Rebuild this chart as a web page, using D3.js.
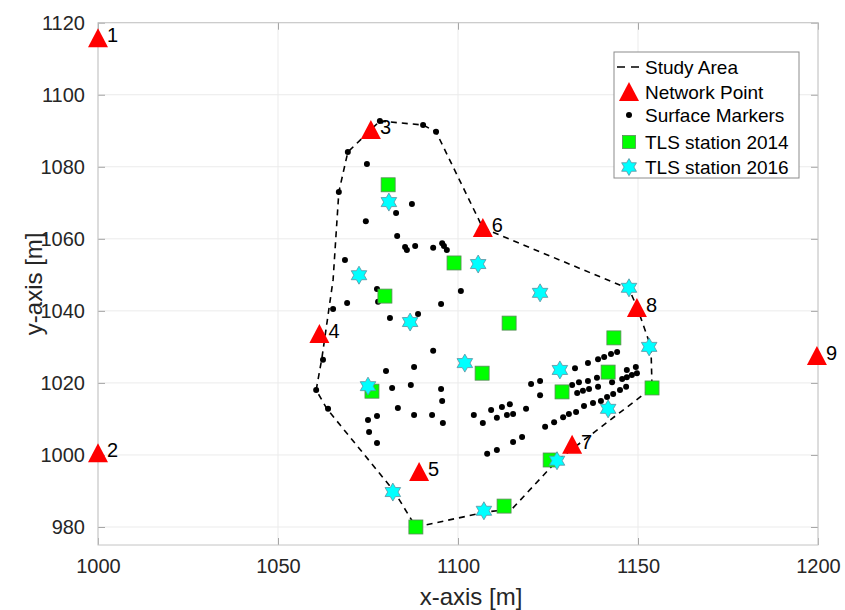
<!DOCTYPE html>
<html>
<head>
<meta charset="utf-8">
<script src="https://cdn.jsdelivr.net/npm/d3@7"></script>
<style>
  body { margin: 0; background: #fff; }
  text { font-family: "Liberation Sans", Arial, sans-serif; }
</style>
</head>
<body>
<div id="chart"></div>
<script>
// Dados (coordenadas em metros)

const xTicks = [1000, 1050, 1100, 1150, 1200];
const yTicks = [980, 1000, 1020, 1040, 1060, 1080, 1100, 1120];

// Pontos da rede: [id, x, y]
const networkPoints = [
  [1, 1000.0, 1115.7],
  [2, 1000.0, 1000.5],
  [3, 1075.8, 1090.2],
  [4, 1061.5, 1033.6],
  [5, 1089.2, 995.3],
  [6, 1106.9, 1063.0],
  [7, 1131.7, 1002.8],
  [8, 1149.7, 1040.8],
  [9, 1199.7, 1027.5]
];

// Contorno da área de estudo
const studyArea = [
  [1078.3, 1092.7], [1090.3, 1091.6], [1093.9, 1089.7], [1106.9, 1063.0],
  [1147.5, 1046.1], [1149.7, 1041.1], [1153.6, 1030.0], [1153.9, 1018.6],
  [1127.5, 998.4], [1115.0, 985.0], [1108.1, 984.2], [1088.3, 980.0],
  [1082.2, 990.0], [1063.6, 1012.8], [1060.6, 1018.0], [1062.2, 1026.9],
  [1065.3, 1048.6], [1066.9, 1073.0], [1069.4, 1084.1], [1078.3, 1092.7]
];

// Marcadores de superfície
const surfaceMarkers = [
  [1078.3, 1092.7], [1090.3, 1091.6], [1093.9, 1089.7], [1069.4, 1084.1],
  [1074.7, 1080.8], [1066.9, 1073.0], [1087.2, 1069.7], [1082.8, 1067.2],
  [1074.4, 1064.9], [1083.1, 1060.8], [1085.3, 1057.7], [1085.8, 1056.9],
  [1088.1, 1058.0], [1093.1, 1057.5], [1095.6, 1058.8], [1096.1, 1058.0],
  [1096.9, 1056.9], [1068.6, 1054.1], [1100.8, 1045.5], [1077.5, 1046.1],
  [1069.2, 1042.2], [1065.3, 1040.5], [1077.8, 1042.5], [1095.3, 1041.9],
  [1081.1, 1038.0], [1088.9, 1039.1], [1093.1, 1028.9], [1062.5, 1026.4],
  [1080.0, 1023.3], [1087.8, 1024.4], [1060.6, 1018.0], [1081.7, 1018.6],
  [1086.9, 1019.4], [1095.3, 1018.3], [1095.6, 1015.0], [1063.9, 1012.8],
  [1083.3, 1013.0], [1087.8, 1011.1], [1092.8, 1011.1], [1095.8, 1008.9],
  [1075.0, 1009.7], [1077.5, 1010.8], [1075.3, 1006.4], [1077.5, 1003.3],
  [1104.4, 1011.1], [1106.9, 1008.9], [1109.2, 1012.5], [1110.8, 1010.3],
  [1112.2, 1013.3], [1113.6, 1011.1], [1114.4, 1014.1], [1115.3, 1011.4],
  [1118.9, 1012.8], [1108.1, 1000.3], [1110.8, 1001.4], [1115.3, 1003.6],
  [1117.8, 1005.0], [1120.3, 1019.7], [1122.8, 1020.5], [1122.8, 1016.6],
  [1132.5, 1024.1], [1136.1, 1025.5], [1138.9, 1026.6], [1140.6, 1027.2],
  [1142.5, 1028.0], [1144.2, 1028.6],
  [1131.7, 1019.4], [1133.6, 1020.2], [1136.1, 1020.5], [1138.6, 1021.4],
  [1146.9, 1023.6], [1149.4, 1024.4],
  [1133.1, 1017.2], [1134.7, 1017.8], [1136.4, 1018.3], [1138.9, 1018.9],
  [1142.8, 1020.2], [1145.6, 1021.1], [1146.9, 1021.6], [1148.3, 1022.2],
  [1149.7, 1022.7],
  [1124.2, 1007.8], [1126.7, 1009.1], [1129.2, 1010.5], [1130.8, 1011.4],
  [1132.8, 1011.9], [1135.0, 1013.6], [1137.5, 1014.4], [1139.7, 1015.0],
  [1141.4, 1016.1], [1143.1, 1016.9], [1145.0, 1018.0], [1146.7, 1018.9]
];

// Estações TLS
const tls2014 = [
  [1080.6, 1075.0], [1098.9, 1053.3], [1079.7, 1044.1], [1114.2, 1036.6],
  [1106.7, 1022.7], [1076.1, 1017.7], [1143.3, 1032.5], [1141.7, 1023.0],
  [1128.9, 1017.5], [1153.9, 1018.6], [1125.6, 998.6], [1112.8, 985.8],
  [1088.3, 980.0]
];

const tls2016 = [
  [1080.8, 1070.2], [1072.5, 1049.9], [1105.6, 1053.0], [1122.8, 1045.0],
  [1147.5, 1046.4], [1086.7, 1036.9], [1101.9, 1025.5], [1075.0, 1019.1],
  [1128.3, 1023.6], [1153.1, 1030.0], [1141.7, 1012.8], [1127.5, 998.4],
  [1107.2, 984.5], [1081.9, 989.7]
];

const legendLabels = ["Study Area", "Network Point", "Surface Markers", "TLS station 2014", "TLS station 2016"];

// ---------------------------------------------------------------

const W = 845, H = 610;
const plot = { left: 98, right: 818, top: 22.7, bottom: 545 };

const svg = d3.select("#chart")
    .append("svg")
    .attr("width", W)
    .attr("height", H);

const x = d3.scaleLinear().domain([1000, 1200]).range([plot.left, plot.right]);
const y = d3.scaleLinear().domain([975, 1120]).range([plot.bottom, plot.top]);

// Grade
svg.append("g")
    .selectAll("line")
    .data(xTicks)
    .enter().append("line")
    .attr("x1", d => x(d)).attr("x2", d => x(d))
    .attr("y1", plot.top).attr("y2", plot.bottom)
    .attr("stroke", "#ebebeb");

svg.append("g")
    .selectAll("line")
    .data(yTicks)
    .enter().append("line")
    .attr("x1", plot.left).attr("x2", plot.right)
    .attr("y1", d => y(d)).attr("y2", d => y(d))
    .attr("stroke", "#ebebeb");

// Eixos (ticks para dentro, como no MATLAB)
const tickLen = 7;
const axisStyle = g => {
  g.select(".domain").remove();
  g.selectAll(".tick line").attr("stroke", "#a6a6a6");
  g.selectAll(".tick text")
      .attr("fill", "#262626")
      .style("font-size", "20px")
      .style("font-family", "'Liberation Sans', Arial, sans-serif");
};

svg.append("g")
    .attr("transform", `translate(0,${plot.bottom})`)
    .call(d3.axisBottom(x).tickValues(xTicks).tickFormat(d3.format("d"))
      .tickSizeInner(-tickLen).tickSizeOuter(0).tickPadding(14))
    .call(axisStyle);

svg.append("g")
    .attr("transform", `translate(${plot.left},0)`)
    .call(d3.axisLeft(y).tickValues(yTicks).tickFormat(d3.format("d"))
      .tickSizeInner(-tickLen).tickSizeOuter(0).tickPadding(13))
    .call(axisStyle);

svg.append("g")
    .attr("transform", `translate(0,${plot.top})`)
    .call(d3.axisTop(x).tickValues(xTicks).tickFormat("")
      .tickSizeInner(-tickLen).tickSizeOuter(0))
    .call(axisStyle);

svg.append("g")
    .attr("transform", `translate(${plot.right},0)`)
    .call(d3.axisRight(y).tickValues(yTicks).tickFormat("")
      .tickSizeInner(-tickLen).tickSizeOuter(0))
    .call(axisStyle);

// Caixa
svg.append("rect")
    .attr("x", plot.left).attr("y", plot.top)
    .attr("width", plot.right - plot.left)
    .attr("height", plot.bottom - plot.top)
    .attr("fill", "none")
    .attr("stroke", "#c4c4c4");

// Área de estudo
svg.append("path")
    .datum(studyArea)
    .attr("d", d3.line().x(d => x(d[0])).y(d => y(d[1])))
    .attr("fill", "none")
    .attr("stroke", "#000")
    .attr("stroke-width", 1.6)
    .attr("stroke-dasharray", "6,5");

// Símbolos
const triPath = (s) => `M0,${-s * 0.5}L${s * 0.5},${s * 0.45}L${-s * 0.5},${s * 0.45}Z`;
const hexagram = (R) => {
  const r = R / Math.sqrt(3);
  const pts = d3.range(12).map(i => {
    const a = -Math.PI / 2 + i * Math.PI / 6;
    const rr = i % 2 === 0 ? R : r;
    return [rr * Math.cos(a), rr * Math.sin(a)];
  });
  return "M" + pts.join("L") + "Z";
};

// Pontos da rede
svg.append("g")
    .selectAll("path")
    .data(networkPoints)
    .enter().append("path")
    .attr("transform", d => `translate(${x(d[1])},${y(d[2])})`)
    .attr("d", triPath(20))
    .attr("fill", "#ff0000");

// Marcadores de superfície
svg.append("g")
    .selectAll("circle")
    .data(surfaceMarkers)
    .enter().append("circle")
    .attr("cx", d => x(d[0]))
    .attr("cy", d => y(d[1]))
    .attr("r", 3)
    .attr("fill", "#000");

// TLS 2014
svg.append("g")
    .selectAll("rect")
    .data(tls2014)
    .enter().append("rect")
    .attr("x", d => x(d[0]) - 7)
    .attr("y", d => y(d[1]) - 7)
    .attr("width", 14)
    .attr("height", 14)
    .attr("fill", "#00ff00")
    .attr("stroke", "#5a8a5a")
    .attr("stroke-width", 0.8);

// TLS 2016
svg.append("g")
    .selectAll("path")
    .data(tls2016)
    .enter().append("path")
    .attr("transform", d => `translate(${x(d[0])},${y(d[1])})`)
    .attr("d", hexagram(9))
    .attr("fill", "#00ffff")
    .attr("stroke", "#5f8f9f")
    .attr("stroke-width", 0.8);

// Rótulos dos pontos da rede
svg.append("g")
    .selectAll("text")
    .data(networkPoints)
    .enter().append("text")
    .attr("x", d => x(d[1]) + 9)
    .attr("y", d => y(d[2]) + 4)
    .style("font-size", "20px")
    .attr("fill", "#000")
    .text(d => d[0]);

// Rótulos dos eixos
svg.append("text")
    .attr("x", 471)
    .attr("y", 605)
    .attr("text-anchor", "middle")
    .attr("fill", "#262626")
    .style("font-size", "24px")
    .text("x-axis [m]");

svg.append("text")
    .attr("transform", `translate(42,${(plot.top + plot.bottom) / 2}) rotate(-90)`)
    .attr("text-anchor", "middle")
    .attr("fill", "#262626")
    .style("font-size", "24px")
    .text("y-axis [m]");

// Legenda
const lg = svg.append("g").attr("transform", "translate(614,52)");
lg.append("rect")
    .attr("width", 185).attr("height", 126)
    .attr("fill", "#fff")
    .attr("stroke", "#8c8c8c");

const rowY = [15, 40, 63, 90, 115];
const iconX = 15;

lg.append("line")
    .attr("x1", 3).attr("x2", 25)
    .attr("y1", rowY[0]).attr("y2", rowY[0])
    .attr("stroke", "#000").attr("stroke-width", 1.6)
    .attr("stroke-dasharray", "8,6");
lg.append("path")
    .attr("transform", `translate(${iconX},${rowY[1]})`)
    .attr("d", triPath(20)).attr("fill", "#ff0000");
lg.append("circle")
    .attr("cx", iconX).attr("cy", rowY[2]).attr("r", 3).attr("fill", "#000");
lg.append("rect")
    .attr("x", iconX - 6.5).attr("y", rowY[3] - 6.5)
    .attr("width", 13).attr("height", 13)
    .attr("fill", "#00ff00").attr("stroke", "#5a8a5a").attr("stroke-width", 0.8);
lg.append("path")
    .attr("transform", `translate(${iconX},${rowY[4]})`)
    .attr("d", hexagram(8.5))
    .attr("fill", "#00ffff").attr("stroke", "#5f8f9f").attr("stroke-width", 0.8);

lg.selectAll("text.leg")
    .data(legendLabels)
    .enter().append("text")
    .attr("class", "leg")
    .attr("x", 31)
    .attr("y", (d, i) => rowY[i] + 7)
    .style("font-size", "19px")
    .attr("fill", "#000")
    .text(d => d);
</script>
</body>
</html>
